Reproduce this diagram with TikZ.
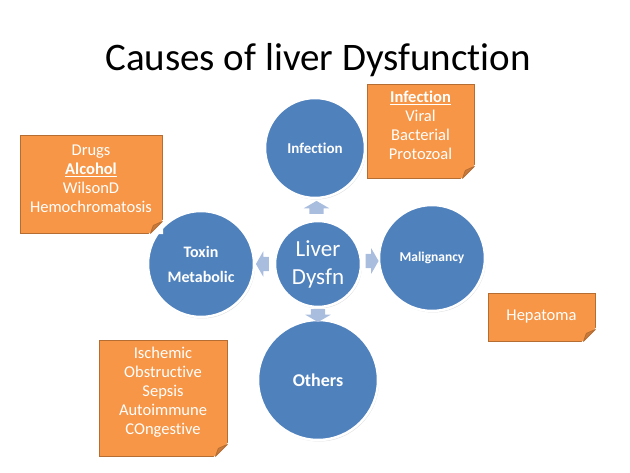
\documentclass[tikz,border=0pt]{standalone}
\usepackage{fontspec}
\setmainfont[Ligatures=NoCommon]{Carlito}
\usepackage{xcolor}
\usetikzlibrary{shapes.arrows,shadows,calc}
\definecolor{causeblue}{HTML}{4F81BD}
\definecolor{noteorange}{HTML}{F79646}
\definecolor{noteedge}{HTML}{B66D31}
\definecolor{notefold}{HTML}{C97A3B}
\definecolor{arrowblue}{HTML}{A9BDDF}

\begin{document}
\begin{tikzpicture}[x=1pt,y=-1pt]
  \tikzset{cause circle/.style={circle,fill=causeblue,draw=white,line width=2.5pt,minimum size=#1,inner sep=0pt,text=white,align=center,
             drop shadow={opacity=0.25,shadow xshift=1pt,shadow yshift=-1.5pt}},
           note/.style={rectangle,fill=noteorange,draw=noteedge,line width=0.8pt,text=white,align=center,inner sep=0pt,
             font=\fontsize{16.5}{19}\selectfont},
           block arrow/.style={single arrow,fill=arrowblue,inner xsep=3pt,inner ysep=7pt,minimum width=25pt,minimum height=13pt,
             single arrow head extend=5.5pt,single arrow tip angle=120,rotate=#1}}%
  \useasboundingbox (0,0) rectangle (630,473);

  \node (title) at (318,60) {\fontsize{39}{44}\selectfont Causes of liver Dysfunction};

  \node [cause circle=86pt,font=\fontsize{23}{28}\selectfont] (L) at (318,264) {Liver\\Dysfn};
  \node [cause circle=100pt,font=\fontsize{15}{18}\selectfont\bfseries] (I) at (315,148) {Infection};
  \node [cause circle=106pt,font=\fontsize{16}{25}\selectfont\bfseries] (T) at (201,264) {Toxin\\Metabolic};
  \node [cause circle=106pt,font=\fontsize{13.5}{16}\selectfont\bfseries] (M) at (432,258) {Malignancy};
  \node [cause circle=120pt,font=\fontsize{18}{21}\selectfont\bfseries] (O) at (318,380) {Others};

  \node [block arrow=90] (arrI) at ($(L.north)!0.5!(I.south)$) {};
  \node [block arrow=0] (arrM) at ($(L.east)!0.5!(M.west)$) {};
  \node [block arrow=180] (arrT) at ($(L.west)!0.5!(T.east)$) {};
  \node [block arrow=270] (arrO) at ($(L.south)!0.5!(O.north)$) {};

  \node [note,minimum width=107pt,minimum height=94pt,text depth=12pt] (textI) at (420.5,131)
    {\underline{\textbf{Infection}}\\Viral\\Bacterial\\Protozoal};
  \node [note,minimum width=142pt,minimum height=98pt,text depth=11pt] (textT) at (91,184)
    {Drugs\\\underline{\textbf{Alcohol}}\\WilsonD\\Hemochromatosis};
  \node [note,minimum width=107pt,minimum height=48pt] (textM) at (541.5,317) {Hepatoma};
  \node [note,minimum width=128pt,minimum height=116pt,text depth=14pt] (textO) at (163,398)
    {Ischemic\\Obstructive\\Sepsis\\Autoimmune\\COngestive};

  \foreach \n in {textI,textT,textM,textO}{
    \filldraw[white,line width=1.5pt] ($(\n.south east)+(-12,0)$) -- (\n.south east) -- ($(\n.south east)+(0,-12)$) -- cycle;
    \filldraw[fill=notefold,draw=noteedge,line width=0.8pt,line join=round]
      ($(\n.south east)+(-12,0)$) -- ($(\n.south east)+(0,-12)$) -- ($(\n.south east)+(-9,-8)$) -- cycle;
  }
\end{tikzpicture}
\end{document}
